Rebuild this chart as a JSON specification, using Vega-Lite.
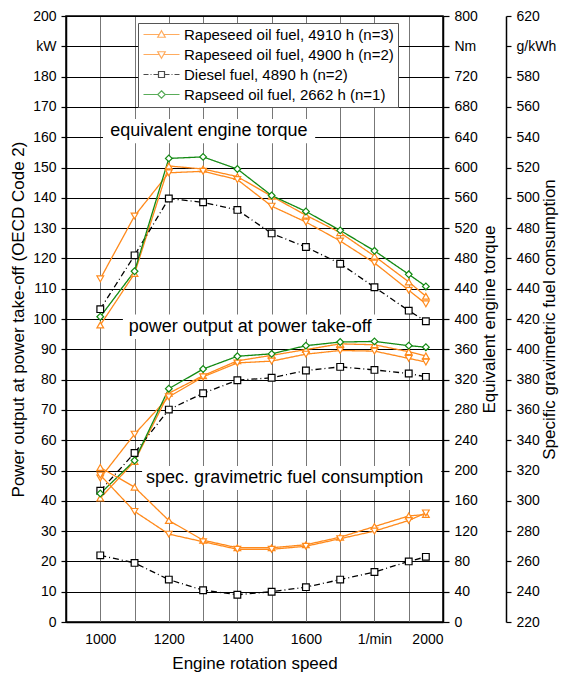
{
  "$schema": "https://vega.github.io/schema/vega-lite/v6.json",
  "width": 377,
  "height": 606,
  "autosize": "none",
  "padding": {"left": 66, "top": 16, "right": 118, "bottom": 58},
  "background": "white",
  "config": {
    "font": "Liberation Sans",
    "view": {"stroke": "black", "strokeWidth": 1.5},
    "axis": {
      "labelFontSize": 14, "labelColor": "black", "labelFont": "Liberation Sans", "labelOverlap": false,
      "titleFontSize": 17, "titleFontWeight": "normal", "titleColor": "black", "titleFont": "Liberation Sans",
      "domainColor": "black", "domainWidth": 1.5, "tickColor": "black", "tickWidth": 1.2
    }
  },
  "data": {"values": [
    {"rpm": 1000, "series": "Rapeseed oil fuel, 4910 h (n=3)", "torque": 392, "power": 40.9, "fuel": 322},
    {"rpm": 1100, "series": "Rapeseed oil fuel, 4910 h (n=3)", "torque": 460, "power": 53.0, "fuel": 309},
    {"rpm": 1200, "series": "Rapeseed oil fuel, 4910 h (n=3)", "torque": 602, "power": 75.5, "fuel": 287},
    {"rpm": 1300, "series": "Rapeseed oil fuel, 4910 h (n=3)", "torque": 598, "power": 81.3, "fuel": 274},
    {"rpm": 1400, "series": "Rapeseed oil fuel, 4910 h (n=3)", "torque": 588, "power": 86.2, "fuel": 269},
    {"rpm": 1500, "series": "Rapeseed oil fuel, 4910 h (n=3)", "torque": 562, "power": 88.0, "fuel": 269},
    {"rpm": 1600, "series": "Rapeseed oil fuel, 4910 h (n=3)", "torque": 537, "power": 89.9, "fuel": 271},
    {"rpm": 1700, "series": "Rapeseed oil fuel, 4910 h (n=3)", "torque": 514, "power": 91.8, "fuel": 276},
    {"rpm": 1800, "series": "Rapeseed oil fuel, 4910 h (n=3)", "torque": 483, "power": 91.5, "fuel": 283},
    {"rpm": 1900, "series": "Rapeseed oil fuel, 4910 h (n=3)", "torque": 449, "power": 89.2, "fuel": 290},
    {"rpm": 1950, "series": "Rapeseed oil fuel, 4910 h (n=3)", "torque": 430, "power": 87.8, "fuel": 291},
    {"rpm": 1000, "series": "Rapeseed oil fuel, 4900 h (n=2)", "torque": 453, "power": 47.5, "fuel": 317},
    {"rpm": 1100, "series": "Rapeseed oil fuel, 4900 h (n=2)", "torque": 536, "power": 62.0, "fuel": 293},
    {"rpm": 1200, "series": "Rapeseed oil fuel, 4900 h (n=2)", "torque": 593, "power": 74.3, "fuel": 278},
    {"rpm": 1300, "series": "Rapeseed oil fuel, 4900 h (n=2)", "torque": 595, "power": 80.9, "fuel": 273},
    {"rpm": 1400, "series": "Rapeseed oil fuel, 4900 h (n=2)", "torque": 584, "power": 85.5, "fuel": 268},
    {"rpm": 1500, "series": "Rapeseed oil fuel, 4900 h (n=2)", "torque": 549, "power": 86.1, "fuel": 268},
    {"rpm": 1600, "series": "Rapeseed oil fuel, 4900 h (n=2)", "torque": 528, "power": 88.4, "fuel": 270},
    {"rpm": 1700, "series": "Rapeseed oil fuel, 4900 h (n=2)", "torque": 503, "power": 89.6, "fuel": 275},
    {"rpm": 1800, "series": "Rapeseed oil fuel, 4900 h (n=2)", "torque": 474, "power": 89.4, "fuel": 280},
    {"rpm": 1900, "series": "Rapeseed oil fuel, 4900 h (n=2)", "torque": 438, "power": 87.0, "fuel": 287},
    {"rpm": 1950, "series": "Rapeseed oil fuel, 4900 h (n=2)", "torque": 420, "power": 85.8, "fuel": 292},
    {"rpm": 1000, "series": "Diesel fuel, 4890 h (n=2)", "torque": 413, "power": 43.3, "fuel": 264},
    {"rpm": 1100, "series": "Diesel fuel, 4890 h (n=2)", "torque": 484, "power": 55.8, "fuel": 259},
    {"rpm": 1200, "series": "Diesel fuel, 4890 h (n=2)", "torque": 559, "power": 70.1, "fuel": 248},
    {"rpm": 1300, "series": "Diesel fuel, 4890 h (n=2)", "torque": 554, "power": 75.5, "fuel": 241},
    {"rpm": 1400, "series": "Diesel fuel, 4890 h (n=2)", "torque": 544, "power": 79.8, "fuel": 238},
    {"rpm": 1500, "series": "Diesel fuel, 4890 h (n=2)", "torque": 513, "power": 80.6, "fuel": 240},
    {"rpm": 1600, "series": "Diesel fuel, 4890 h (n=2)", "torque": 495, "power": 83.0, "fuel": 243},
    {"rpm": 1700, "series": "Diesel fuel, 4890 h (n=2)", "torque": 473, "power": 84.2, "fuel": 248},
    {"rpm": 1800, "series": "Diesel fuel, 4890 h (n=2)", "torque": 442, "power": 83.2, "fuel": 253},
    {"rpm": 1900, "series": "Diesel fuel, 4890 h (n=2)", "torque": 411, "power": 82.0, "fuel": 260},
    {"rpm": 1950, "series": "Diesel fuel, 4890 h (n=2)", "torque": 397, "power": 80.9, "fuel": 263},
    {"rpm": 1000, "series": "Rapseed oil fuel, 2662 h (n=1)", "torque": 403, "power": 42.4},
    {"rpm": 1100, "series": "Rapseed oil fuel, 2662 h (n=1)", "torque": 463, "power": 53.3},
    {"rpm": 1200, "series": "Rapseed oil fuel, 2662 h (n=1)", "torque": 612, "power": 77.0},
    {"rpm": 1300, "series": "Rapseed oil fuel, 2662 h (n=1)", "torque": 614, "power": 83.5},
    {"rpm": 1400, "series": "Rapseed oil fuel, 2662 h (n=1)", "torque": 598, "power": 87.7},
    {"rpm": 1500, "series": "Rapseed oil fuel, 2662 h (n=1)", "torque": 563, "power": 88.5},
    {"rpm": 1600, "series": "Rapseed oil fuel, 2662 h (n=1)", "torque": 542, "power": 91.2},
    {"rpm": 1700, "series": "Rapseed oil fuel, 2662 h (n=1)", "torque": 517, "power": 92.4},
    {"rpm": 1800, "series": "Rapseed oil fuel, 2662 h (n=1)", "torque": 490, "power": 92.6},
    {"rpm": 1900, "series": "Rapseed oil fuel, 2662 h (n=1)", "torque": 459, "power": 91.2},
    {"rpm": 1950, "series": "Rapseed oil fuel, 2662 h (n=1)", "torque": 443, "power": 90.7}
  ]},
  "layer": [
    {
      "layer": [
        {"data": {"values": [{}]}, "mark": {"type": "rect", "fill": "white"},
         "encoding": {"x": {"datum": 1008, "type": "quantitative"}, "x2": {"datum": 1627}, "y": {"datum": 166, "type": "quantitative"}, "y2": {"datum": 158}}},
        {"data": {"values": [{}]}, "mark": {"type": "rect", "fill": "white"},
         "encoding": {"x": {"datum": 1066, "type": "quantitative"}, "x2": {"datum": 1807}, "y": {"datum": 101.5, "type": "quantitative"}, "y2": {"datum": 93.4}}},
        {"data": {"values": [{}]}, "mark": {"type": "rect", "fill": "white"},
         "encoding": {"x": {"datum": 1122, "type": "quantitative"}, "x2": {"datum": 1995}, "y": {"datum": 51.5, "type": "quantitative"}, "y2": {"datum": 43.6}}},
        {"data": {"values": [{}]}, "mark": {"type": "text", "text": "equivalent engine torque", "fontSize": 18, "font": "Liberation Sans", "color": "black", "baseline": "middle"},
         "encoding": {"x": {"datum": 1317, "type": "quantitative"}, "y": {"datum": 162.2, "type": "quantitative"}}},
        {"data": {"values": [{}]}, "mark": {"type": "text", "text": "power output at power take-off", "fontSize": 18, "font": "Liberation Sans", "color": "black", "baseline": "middle"},
         "encoding": {"x": {"datum": 1437, "type": "quantitative"}, "y": {"datum": 97.4, "type": "quantitative"}}},
        {"data": {"values": [{}]}, "mark": {"type": "text", "text": "spec. gravimetric fuel consumption", "fontSize": 18, "font": "Liberation Sans", "color": "black", "baseline": "middle"},
         "encoding": {"x": {"datum": 1538, "type": "quantitative"}, "y": {"datum": 47.5, "type": "quantitative"}}},
        {
          "mark": {"type": "line", "strokeWidth": 1.3},
          "encoding": {
            "x": {
              "field": "rpm", "type": "quantitative", "title": "Engine rotation speed",
              "scale": {"domain": [900, 2000], "nice": false, "zero": false},
              "axis": {
                "values": [1000, 1100, 1200, 1300, 1400, 1500, 1600, 1700, 1800, 1900, 2000],
                "tickCount": 30,
                "labelExpr": "datum.value == 1800 ? '1/min' : (datum.value % 200 == 0 ? format(datum.value, 'd') : '')",
                "grid": true, "gridColor": "#777777", "gridWidth": 1,
                "ticks": false, "labelPadding": 10, "titlePadding": 9
              }
            },
            "y": {"field": "power", "type": "quantitative",
              "scale": {"domain": [0, 200], "nice": false, "zero": false},
              "axis": {"orient": "left", "title": "Power output at power take-off (OECD Code 2)",
                "values": [0,10,20,30,40,50,60,70,80,90,100,110,120,130,140,150,160,170,180,190,200],
                "tickCount": 30,
                "labelExpr": "datum.value == 190 ? 'kW' : datum.label",
                "grid": true, "gridColor": "black", "gridWidth": 1.2,
                "tickSize": 5, "labelPadding": 5, "titlePadding": 5}},
            "color": {"field": "series", "type": "nominal", "legend": null,
              "scale": {"domain": ["Rapeseed oil fuel, 4910 h (n=3)", "Rapeseed oil fuel, 4900 h (n=2)", "Diesel fuel, 4890 h (n=2)", "Rapseed oil fuel, 2662 h (n=1)"],
                "range": ["#ff8a1c", "#ff8a1c", "#000000", "#138a13"]}},
            "strokeDash": {"field": "series", "type": "nominal", "legend": null,
              "scale": {"domain": ["Rapeseed oil fuel, 4910 h (n=3)", "Rapeseed oil fuel, 4900 h (n=2)", "Diesel fuel, 4890 h (n=2)", "Rapseed oil fuel, 2662 h (n=1)"],
                "range": [[1, 0], [1, 0], [6, 3, 1, 3], [1, 0]]}}
          }
        },
        {
          "mark": {"type": "point", "filled": false, "fill": "white", "fillOpacity": 1, "opacity": 1, "size": 45, "strokeWidth": 1.2},
          "encoding": {
            "x": {"field": "rpm", "type": "quantitative"},
            "y": {"field": "power", "type": "quantitative"},
            "color": {"field": "series", "type": "nominal", "legend": null},
            "shape": {"field": "series", "type": "nominal", "legend": null,
              "scale": {"domain": ["Rapeseed oil fuel, 4910 h (n=3)", "Rapeseed oil fuel, 4900 h (n=2)", "Diesel fuel, 4890 h (n=2)", "Rapseed oil fuel, 2662 h (n=1)"],
                "range": ["triangle-up", "triangle-down", "square", "diamond"]}}
          }
        }
      ]
    },
    {
      "layer": [
        {
          "mark": {"type": "line", "strokeWidth": 1.3},
          "encoding": {
            "x": {"field": "rpm", "type": "quantitative"},
            "y": {"field": "torque", "type": "quantitative",
              "scale": {"domain": [0, 800], "nice": false, "zero": false},
              "axis": {"orient": "right", "title": "Equivalent engine torque",
                "values": [0,40,80,120,160,200,240,280,320,360,400,440,480,520,560,600,640,680,720,760,800],
                "tickCount": 30,
                "labelExpr": "datum.value == 760 ? 'Nm' : datum.label",
                "grid": false, "tickSize": 6, "labelPadding": 5, "titlePadding": 4,
                "titleAngle": 270, "titleBaseline": "top"}},
            "color": {"field": "series", "type": "nominal", "legend": null,
              "scale": {"domain": ["Rapeseed oil fuel, 4910 h (n=3)", "Rapeseed oil fuel, 4900 h (n=2)", "Diesel fuel, 4890 h (n=2)", "Rapseed oil fuel, 2662 h (n=1)"],
                "range": ["#ff8a1c", "#ff8a1c", "#000000", "#138a13"]}},
            "strokeDash": {"field": "series", "type": "nominal", "legend": null}
          }
        },
        {
          "mark": {"type": "point", "filled": false, "fill": "white", "fillOpacity": 1, "opacity": 1, "size": 45, "strokeWidth": 1.2},
          "encoding": {
            "x": {"field": "rpm", "type": "quantitative"},
            "y": {"field": "torque", "type": "quantitative"},
            "color": {"field": "series", "type": "nominal", "legend": null},
            "shape": {"field": "series", "type": "nominal", "legend": null,
              "scale": {"domain": ["Rapeseed oil fuel, 4910 h (n=3)", "Rapeseed oil fuel, 4900 h (n=2)", "Diesel fuel, 4890 h (n=2)", "Rapseed oil fuel, 2662 h (n=1)"],
                "range": ["triangle-up", "triangle-down", "square", "diamond"]}}
          }
        }
      ]
    },
    {
      "layer": [
        {
          "mark": {"type": "line", "strokeWidth": 1.3},
          "encoding": {
            "x": {"field": "rpm", "type": "quantitative"},
            "y": {"field": "fuel", "type": "quantitative",
              "scale": {"domain": [220, 620], "nice": false, "zero": false},
              "axis": {"orient": "right", "offset": 63, "title": "Specific gravimetric fuel consumption",
                "values": [220,240,260,280,300,320,340,360,380,400,420,440,460,480,500,520,540,560,580,600,620],
                "tickCount": 30,
                "labelExpr": "datum.value == 600 ? 'g/kWh' : datum.label",
                "grid": false, "tickSize": 5, "labelPadding": 5, "titlePadding": -14,
                "titleAngle": 270, "titleBaseline": "top"}},
            "color": {"field": "series", "type": "nominal", "legend": null,
              "scale": {"domain": ["Rapeseed oil fuel, 4910 h (n=3)", "Rapeseed oil fuel, 4900 h (n=2)", "Diesel fuel, 4890 h (n=2)", "Rapseed oil fuel, 2662 h (n=1)"],
                "range": ["#ff8a1c", "#ff8a1c", "#000000", "#138a13"]}},
            "strokeDash": {"field": "series", "type": "nominal", "legend": null}
          }
        },
        {
          "mark": {"type": "point", "filled": false, "fill": "white", "fillOpacity": 1, "opacity": 1, "size": 45, "strokeWidth": 1.2},
          "encoding": {
            "x": {"field": "rpm", "type": "quantitative"},
            "y": {"field": "fuel", "type": "quantitative"},
            "color": {"field": "series", "type": "nominal", "legend": null},
            "shape": {"field": "series", "type": "nominal", "legend": null,
              "scale": {"domain": ["Rapeseed oil fuel, 4910 h (n=3)", "Rapeseed oil fuel, 4900 h (n=2)", "Diesel fuel, 4890 h (n=2)", "Rapseed oil fuel, 2662 h (n=1)"],
                "range": ["triangle-up", "triangle-down", "square", "diamond"]}}
          }
        }
      ]
    },
    {
      "transform": [{"filter": "false"}],
      "mark": {"type": "point", "filled": false, "strokeWidth": 1.2},
      "encoding": {
        "color": {"field": "series", "type": "nominal", "title": null,
          "scale": {"domain": ["Rapeseed oil fuel, 4910 h (n=3)", "Rapeseed oil fuel, 4900 h (n=2)", "Diesel fuel, 4890 h (n=2)", "Rapseed oil fuel, 2662 h (n=1)"],
            "range": ["#ff8a1c", "#ff8a1c", "#000000", "#138a13"]},
          "legend": {"orient": "none", "legendX": 72, "legendY": 7, "direction": "vertical",
            "fillColor": "white", "strokeColor": "#555555", "padding": 4,
            "symbolSize": 100, "symbolStrokeWidth": 1.2, "symbolOffset": 12, "labelOffset": 15,
            "labelFontSize": 15, "labelFont": "Liberation Sans", "labelColor": "black", "rowPadding": 4, "labelLimit": 400}},
        "shape": {"field": "series", "type": "nominal", "title": null,
          "scale": {"domain": ["Rapeseed oil fuel, 4910 h (n=3)", "Rapeseed oil fuel, 4900 h (n=2)", "Diesel fuel, 4890 h (n=2)", "Rapseed oil fuel, 2662 h (n=1)"],
            "range": [
              "M-3.6,0H-0.43M0.43,0H3.6M0,-0.75L0.75,0.55L-0.75,0.55Z",
              "M-3.6,0H-0.43M0.43,0H3.6M0,0.75L0.75,-0.55L-0.75,-0.55Z",
              "M-3.6,0H-2.6M-2.2,0H-2M-1.6,0H-0.6M0.6,0H1.6M2,0H2.2M2.6,0H3.6M-0.6,-0.6H0.6V0.6H-0.6Z",
              "M-3.6,0H-0.75M0.75,0H3.6M0,-0.75L0.75,0L0,0.75L-0.75,0Z"]},
          "legend": {"orient": "none", "legendX": 72, "legendY": 7, "direction": "vertical",
            "fillColor": "white", "strokeColor": "#555555", "padding": 4,
            "symbolSize": 100, "symbolStrokeWidth": 1.2, "symbolOffset": 12, "labelOffset": 15,
            "labelFontSize": 15, "labelFont": "Liberation Sans", "labelColor": "black", "rowPadding": 4, "labelLimit": 400}}
      }
    }
  ],
  "resolve": {"scale": {"y": "independent", "shape": "independent", "color": "independent"}}
}
